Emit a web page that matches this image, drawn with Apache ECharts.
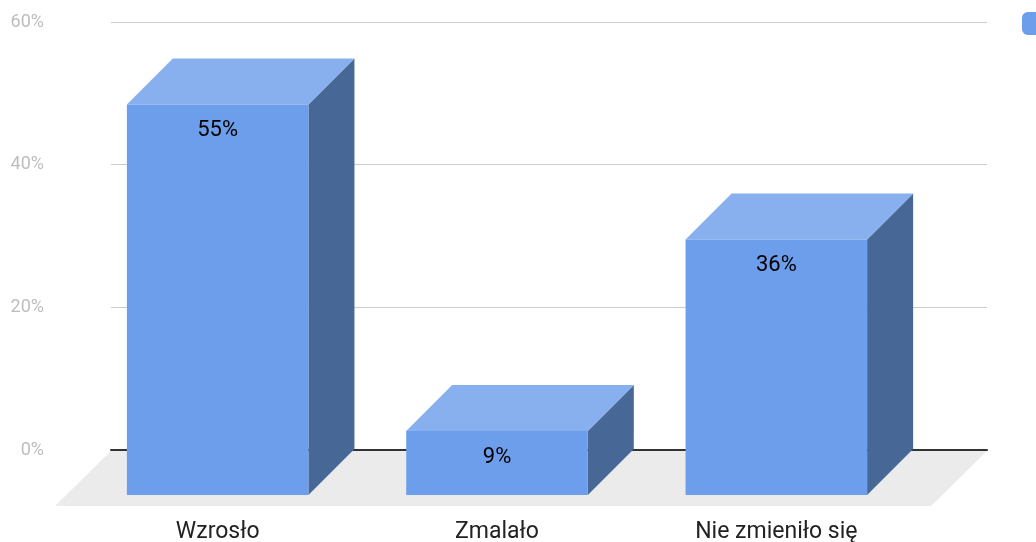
<!DOCTYPE html>
<html>
<head>
<meta charset="utf-8">
<script src="https://cdn.jsdelivr.net/npm/echarts@6/dist/echarts.min.js"></script>
<style>
    html, body { margin: 0; padding: 0; background: #fff; }
    #main { width: 1036px; height: 542px; }
</style>
</head>
<body>
<div id="main"></div>
<script>
// dane z wykresu
var categories = ['Wzrosło', 'Zmalało', 'Nie zmieniło się'];
var values = [55, 9, 36];
var yTicks = [0, 20, 40, 60];

var DEPTH = 46; // przesunięcie 3D (px)

var chart = echarts.init(document.getElementById('main'));

function renderBar(params, api) {
    var idx = api.value(0);
    var v = api.value(1);
    var top = api.coord([idx, v]);
    var base = api.coord([idx, 0]);
    var w = api.size([1, 0])[0] * 0.65;
    var l = top[0] - w / 2, r = top[0] + w / 2;
    var t = top[1], b = base[1];
    return {
        type: 'group',
        children: [
            {
                type: 'polygon',
                shape: { points: [[r, t], [r + DEPTH, t - DEPTH], [r + DEPTH, b - DEPTH], [r, b]] },
                style: { fill: '#476897' }
            },
            {
                type: 'polygon',
                shape: { points: [[l, t], [r, t], [r + DEPTH, t - DEPTH], [l + DEPTH, t - DEPTH]] },
                style: { fill: '#89b0ee' }
            },
            {
                type: 'rect',
                shape: { x: l, y: t, width: w, height: b - t },
                style: { fill: '#6d9eeb' }
            },
            {
                type: 'text',
                style: {
                    x: top[0], y: t + 26, text: v + '%',
                    fill: '#000', font: '22px Roboto',
                    align: 'center', verticalAlign: 'middle'
                }
            }
        ]
    };
}

function renderFloor(params, api) {
    var cs = params.coordSys;
    var y0 = cs.y + cs.height + 1;
    var x0 = cs.x, x1 = cs.x + cs.width;
    var d = 56;
    return {
        type: 'polygon',
        shape: { points: [[x0, y0], [x1, y0], [x1 - d, y0 + d - 1], [x0 - d, y0 + d - 1]] },
        style: { fill: '#ebebeb' }
    };
}

var option = {
    backgroundColor: '#fff',
    textStyle: { fontFamily: 'Roboto' },
    legend: {
        left: 1022,
        top: 12,
        padding: 0,
        itemWidth: 26,
        itemHeight: 23,
        formatter: function () { return ''; },
        data: [{ name: 'Odpowiedzi', icon: 'roundRect' }]
    },
    grid: [
        // tylna ściana: siatka i oś Y
        { left: 111, right: 49, top: 22, bottom: 92, outerBoundsMode: 'none' },
        // przednie ściany słupków
        { left: 78, right: 120, top: 69, bottom: 47, outerBoundsMode: 'none' }
    ],
    xAxis: [
        {
            gridIndex: 0, type: 'category', data: categories,
            axisLine: { show: true, lineStyle: { color: '#333', width: 2 } },
            axisTick: { show: false }, axisLabel: { show: false }
        },
        {
            gridIndex: 1, type: 'category', data: categories,
            axisLine: { show: false }, axisTick: { show: false },
            axisLabel: { color: '#222', fontSize: 23, margin: 26 }
        }
    ],
    yAxis: [
        {
            gridIndex: 0, type: 'value', min: yTicks[0], max: yTicks[yTicks.length - 1], interval: 20,
            axisLine: { show: false }, axisTick: { show: false },
            axisLabel: { formatter: '{value}%', color: '#bdbdbd', fontSize: 18, margin: 67, padding: [5, 0, 0, 0] },
            splitLine: { lineStyle: { color: '#cccccc', width: 1 } }
        },
        {
            gridIndex: 1, type: 'value', min: 0, max: 60, show: false,
            splitLine: { show: false }
        }
    ],
    series: [
        {
            type: 'custom',
            xAxisIndex: 0, yAxisIndex: 0,
            z: 1, silent: true,
            renderItem: renderFloor,
            data: [[0, 0]]
        },
        {
            name: 'Odpowiedzi',
            type: 'custom',
            xAxisIndex: 1, yAxisIndex: 1,
            z: 3,
            itemStyle: { color: '#6d9eeb' },
            renderItem: renderBar,
            encode: { x: 0, y: 1 },
            data: values.map(function (v, i) { return [i, v]; })
        }
    ]
};

chart.setOption(option);
</script>
</body>
</html>
